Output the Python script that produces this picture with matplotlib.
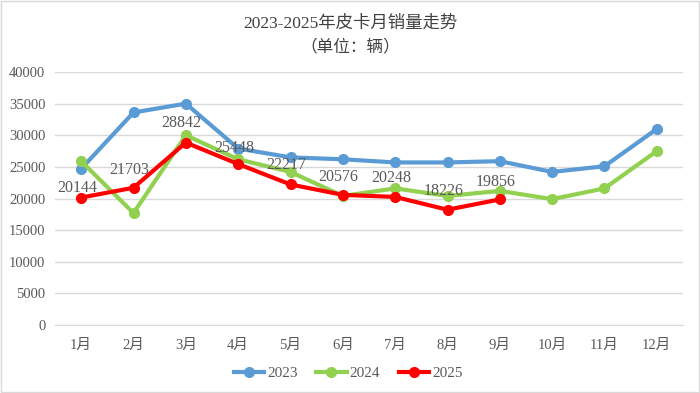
import matplotlib.pyplot as plt
from matplotlib.patches import Rectangle

FONT = ['Liberation Serif', 'Noto Sans CJK SC']
plt.rcParams['font.family'] = FONT

months = ['1月', '2月', '3月', '4月', '5月', '6月', '7月', '8月', '9月', '10月', '11月', '12月']
sales_2023 = [24700, 33600, 35000, 27900, 26500, 26200, 25700, 25700, 25900, 24200, 25100, 31000]
sales_2024 = [25900, 17700, 30000, 26200, 24200, 20400, 21600, 20400, 21200, 19900, 21600, 27500]
sales_2025 = [20144, 21703, 28842, 25448, 22217, 20576, 20248, 18226, 19856]
yticks = [0, 5000, 10000, 15000, 20000, 25000, 30000, 35000, 40000]

fig = plt.figure(figsize=(7, 3.93), dpi=100)
ax = fig.add_axes([55 / 700, 68 / 393, 628 / 700, 253 / 393])

x = list(range(len(months)))
ax.plot(x, sales_2023, color='#5b9bd5', lw=3, marker='o', ms=7, label='2023', zorder=3)
ax.plot(x, sales_2024, color='#92d050', lw=3, marker='o', ms=7, label='2024', zorder=4)
ax.plot(x[:len(sales_2025)], sales_2025, color='#ff0000', lw=3, marker='o', ms=7, label='2025', zorder=5)

# label offsets (points) - first one sits lower in the original
offs = [1, 7, 8, 6, 8, 7, 8, 8, 7]
for i, v in enumerate(sales_2025):
    ax.annotate(str(v), (i, v), xytext=(-3, offs[i]), textcoords='offset points',
                ha='center', va='bottom', fontsize=11.5, color='#595959', zorder=6)

ax.set_xlim(-0.5, 11.5)
ax.set_ylim(0, 40000)
ax.set_yticks(yticks)
ax.set_xticks(x)
ax.set_xticklabels(months)
ax.grid(axis='y', color='#d9d9d9', lw=1)
ax.set_axisbelow(True)
for s in ['top', 'right', 'left']:
    ax.spines[s].set_visible(False)
ax.spines['bottom'].set_color('#d9d9d9')
ax.tick_params(length=0, colors='#595959', labelsize=10.5, pad=10)
ax.tick_params(axis='y', pad=7)

fig.text(0.5, 0.94, '2023-2025年皮卡月销量走势', ha='center', va='center', fontsize=12.5, color='#404040')
fig.text(0.5, 0.88, '（单位：辆）', ha='center', va='center', fontsize=12, color='#404040')

ax.legend(loc='center', bbox_to_anchor=(0.467, -0.19), ncol=3, frameon=False,
          fontsize=11, labelcolor='#595959', handlelength=2, handletextpad=0.2, columnspacing=1.2)

fig.patches.append(Rectangle((0.002, 0.003), 0.996, 0.994, transform=fig.transFigure,
                             fill=False, edgecolor='#d9d9d9', lw=1))

fig.savefig('out.png', dpi=100)
